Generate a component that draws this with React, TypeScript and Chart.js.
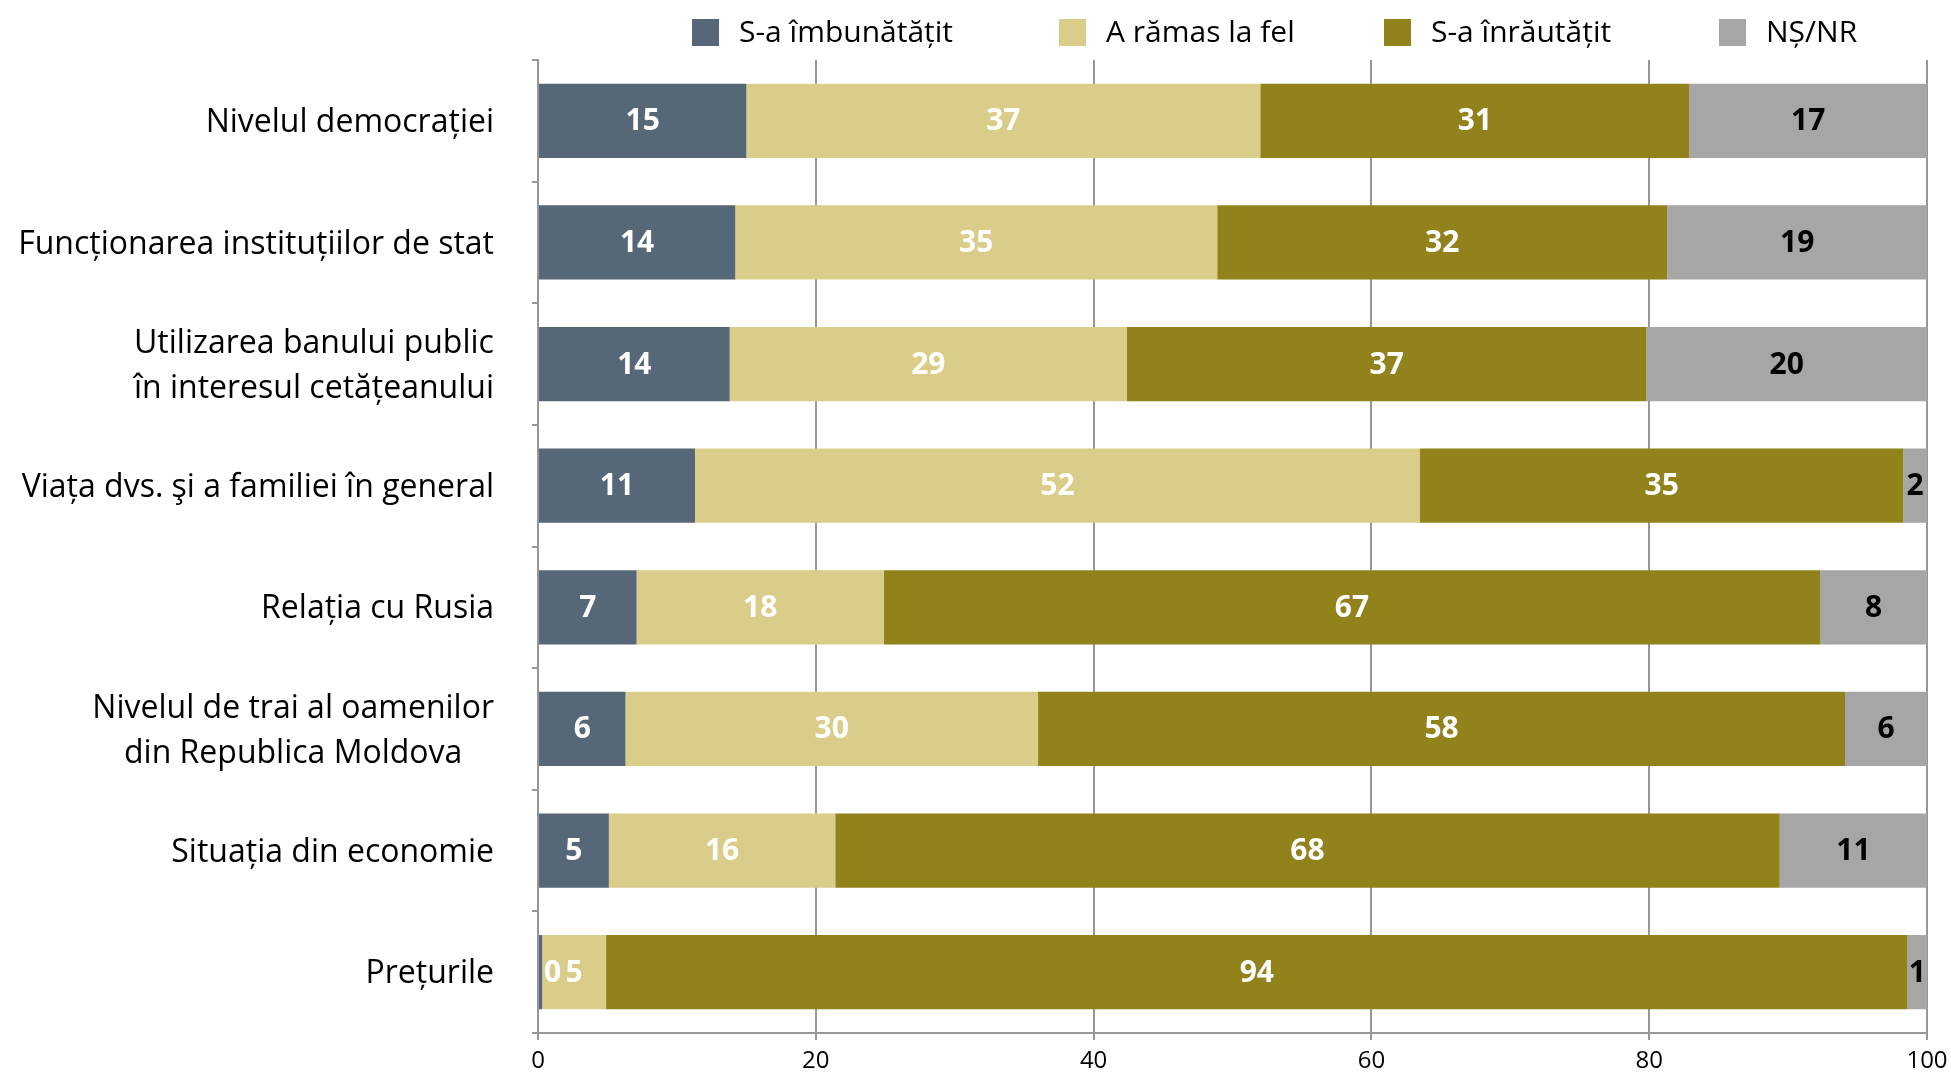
import React, { useEffect, useRef } from "react";
import { Chart, registerables } from "chart.js";

Chart.register(...registerables);

// ---------- data ----------
const categories: (string | string[])[] = [
  "Nivelul democrației",
  "Funcționarea instituțiilor de stat",
  ["Utilizarea banului public", "în interesul cetățeanului"],
  "Viața dvs. şi a familiei în general",
  "Relația cu Rusia",
  ["Nivelul de trai al oamenilor", "din Republica Moldova"],
  "Situația din economie",
  "Prețurile",
];

const seriesNames = ["S-a îmbunătățit", "A rămas la fel", "S-a înrăutățit", "NȘ/NR"];

const improved = [15.0, 14.2, 13.8, 11.3, 7.1, 6.3, 5.1, 0.3];
const same = [37.0, 34.7, 28.6, 52.2, 17.8, 29.7, 16.3, 4.6];
const worse = [30.9, 32.4, 37.4, 34.8, 67.4, 58.1, 68.0, 93.7];
const dontKnow = [17.1, 18.7, 20.2, 1.7, 7.7, 5.9, 10.6, 1.4];

const xTicks = [0, 20, 40, 60, 80, 100];

// ---------- styles ----------
const COLORS = ["#566777", "#DACD89", "#91821B", "#A6A6A6"];
const LABEL_COLORS = ["#FFFFFF", "#FFFFFF", "#FFFFFF", "#000000"];
const FONT = "'Open Sans', 'DejaVu Sans', sans-serif";
const AXIS_COLOR = "#979797";
const LEGEND_X = [692, 1059, 1384, 1719];

const legendPlugin = {
  id: "customLegend",
  afterDraw(chart: any) {
    const ctx = chart.ctx;
    ctx.save();
    ctx.font = `30px ${FONT}`;
    ctx.textAlign = "left";
    ctx.textBaseline = "middle";
    seriesNames.forEach((name, i) => {
      const x = LEGEND_X[i];
      ctx.fillStyle = COLORS[i];
      ctx.fillRect(x, 19, 27, 27);
      ctx.fillStyle = "#000";
      ctx.fillText(name, x + 47, 33);
    });
    ctx.restore();
  },
};

const yLabelPlugin = {
  id: "yLabels",
  afterDraw(chart: any) {
    const ctx = chart.ctx;
    const yScale = chart.scales.y;
    ctx.save();
    ctx.font = `32px ${FONT}`;
    ctx.fillStyle = "#000";
    ctx.textAlign = "center";
    ctx.textBaseline = "middle";
    const right = chart.chartArea.left - 44;
    const lh = 45;
    categories.forEach((lab, i) => {
      const lines = Array.isArray(lab) ? lab : [lab];
      const w = Math.max(...lines.map((l) => ctx.measureText(l).width));
      const cx = right - w / 2;
      const cy = yScale.getPixelForValue(i) + 2;
      lines.forEach((l, j) => {
        ctx.fillText(l, cx, cy + (j - (lines.length - 1) / 2) * lh);
      });
    });
    ctx.restore();
  },
};

const valueLabelPlugin = {
  id: "valueLabels",
  afterDatasetsDraw(chart: any) {
    const ctx = chart.ctx;
    ctx.save();
    ctx.font = `bold 30px ${FONT}`;
    ctx.textAlign = "center";
    ctx.textBaseline = "middle";
    chart.data.datasets.forEach((ds: any, di: number) => {
      const meta = chart.getDatasetMeta(di);
      meta.data.forEach((bar: any, i: number) => {
        const v = ds.data[i];
        const { x, base, y } = bar.getProps(["x", "base", "y"], true);
        const txt = String(Math.round(v));
        const w = ctx.measureText(txt).width;
        let cx = (x + base) / 2;
        cx = Math.max(cx, chart.chartArea.left + 6 + w / 2);
        ctx.fillStyle = LABEL_COLORS[di];
        ctx.fillText(txt, cx, y + 1);
      });
    });
    ctx.restore();
  },
};

export default function App() {
  const canvasRef = useRef<HTMLCanvasElement | null>(null);

  useEffect(() => {
    let chart: Chart | null = null;
    let cancelled = false;
    const make = () => {
      if (cancelled || !canvasRef.current) return;
      const series = [improved, same, worse, dontKnow];
      chart = new Chart(canvasRef.current, {
        type: "bar",
        data: {
          labels: categories.map((c) => (Array.isArray(c) ? c.join(" ") : c)),
          datasets: series.map((d, i) => ({
            label: seriesNames[i],
            data: d,
            backgroundColor: COLORS[i],
            borderWidth: 0,
            barPercentage: 0.61,
            categoryPercentage: 1,
          })),
        },
        options: {
          indexAxis: "y",
          responsive: false,
          animation: false,
          devicePixelRatio: 1,
          layout: { padding: { top: 60, right: 24, left: 0, bottom: 0 } },
          plugins: {
            legend: { display: false },
            tooltip: { enabled: false },
          },
          scales: {
            x: {
              type: "linear",
              stacked: true,
              min: 0,
              max: 100,
              afterBuildTicks: (scale: any) => {
                scale.ticks = xTicks.map((v) => ({ value: v }));
              },
              afterFit: (scale: any) => {
                scale.height = 40;
                scale.paddingLeft = 0;
                scale.paddingRight = 0;
              },
              ticks: {
                color: "#000",
                font: { family: FONT, size: 24 },
                padding: 7,
              },
              grid: {
                color: AXIS_COLOR,
                lineWidth: 2,
                drawTicks: true,
                tickLength: 7,
              },
              border: { display: true, color: AXIS_COLOR, width: 2 },
            },
            y: {
              type: "category",
              stacked: true,
              afterFit: (scale: any) => {
                scale.width = 538;
                scale.paddingTop = 0;
                scale.paddingBottom = 0;
              },
              ticks: { display: false },
              grid: {
                color: AXIS_COLOR,
                lineWidth: 2,
                drawOnChartArea: false,
                drawTicks: true,
                tickLength: 6,
                offset: true,
              },
              border: { display: true, color: AXIS_COLOR, width: 2 },
            },
          },
        } as any,
        plugins: [legendPlugin, yLabelPlugin, valueLabelPlugin],
      });
    };
    const fontsApi = (document as any).fonts;
    if (fontsApi && fontsApi.load) {
      Promise.all([
        fontsApi.load(`30px 'Open Sans'`),
        fontsApi.load(`bold 30px 'Open Sans'`),
      ])
        .catch(() => null)
        .then(make);
    } else {
      make();
    }
    return () => {
      cancelled = true;
      if (chart) chart.destroy();
    };
  }, []);

  return (
    <div
      style={{
        position: "fixed",
        left: 0,
        top: 0,
        width: 1951,
        height: 1073,
        background: "#fff",
      }}
    >
      <canvas
        ref={canvasRef}
        width={1951}
        height={1073}
        style={{ display: "block", width: 1951, height: 1073 }}
      />
    </div>
  );
}
